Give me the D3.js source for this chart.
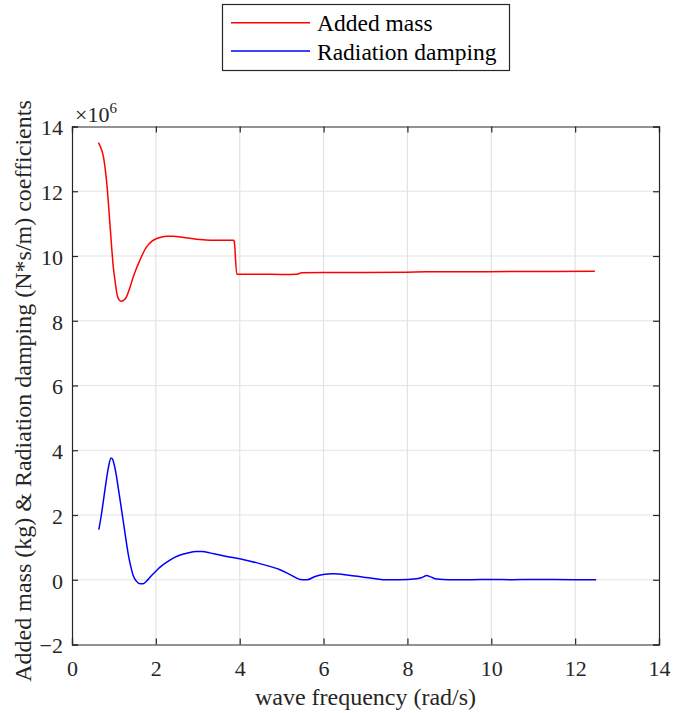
<!DOCTYPE html>
<html>
<head>
<meta charset="utf-8">
<script src="https://cdn.jsdelivr.net/npm/d3@7"></script>
<style>
  html, body { margin: 0; padding: 0; background: #fff; }
  svg { display: block; }
  svg text { font-family: "Liberation Serif", "Times New Roman", serif; fill: #262626; }
</style>
</head>
<body>
<script>
// ---- data (values in units of 1e6) ----
const addedMassX = [0.63,0.70,0.75,0.80,0.83,0.87,0.91,0.95,0.985,1.03,1.07,1.12,1.17,1.23,1.30,1.38,1.46,1.54,1.62,1.70,1.78,1.90,2.02,2.14,2.26,2.42,2.58,2.80,3.05,3.30,3.60,3.86,3.87,3.93,4.5,5.0,5.36,5.48,6.0,6.95,8.0,8.46,9.5,10.5,11.5,12.47];
const addedMassY = [13.5,13.3,13.06,12.6,12.24,11.6,10.9,10.2,9.66,9.2,8.84,8.65,8.6,8.63,8.74,9.02,9.35,9.63,9.87,10.1,10.28,10.45,10.54,10.59,10.61,10.61,10.59,10.55,10.51,10.49,10.49,10.49,10.45,9.44,9.44,9.43,9.44,9.48,9.49,9.49,9.50,9.51,9.51,9.52,9.52,9.53];
const dampingX = [0.64,0.70,0.75,0.81,0.87,0.93,0.97,1.00,1.05,1.10,1.16,1.22,1.28,1.34,1.40,1.46,1.54,1.62,1.70,1.78,1.86,1.98,2.10,2.28,2.46,2.60,2.74,2.97,3.10,3.29,3.50,3.69,4.0,4.5,4.96,5.2,5.44,5.6,5.8,5.99,6.23,6.6,6.95,7.2,7.43,7.8,8.22,8.35,8.46,8.55,8.7,9.0,9.5,10.0,10.5,11.0,12.0,12.5];
const dampingY = [1.55,2.0,2.45,3.0,3.48,3.76,3.72,3.59,3.28,2.86,2.35,1.83,1.3,0.80,0.42,0.13,-0.05,-0.12,-0.12,-0.04,0.08,0.24,0.39,0.56,0.70,0.77,0.82,0.875,0.87,0.83,0.77,0.72,0.65,0.49,0.31,0.16,0.01,0.0,0.1,0.16,0.185,0.14,0.08,0.04,0.0,0.0,0.03,0.07,0.13,0.09,0.02,0.0,0.0,0.01,0.0,0.01,0.0,0.0];
const seriesNames = ["Added mass", "Radiation damping"];
const seriesColors = ["#ff0000", "#0000ff"];
const xTicks = [0,2,4,6,8,10,12,14];
const yTicks = [-2,0,2,4,6,8,10,12,14];
const xLabel = "wave frequency (rad/s)";
const yLabel = "Added mass (kg) & Radiation damping (N*s/m) coefficients";

const FONT = '"Liberation Serif", "Times New Roman", serif';
const W = 673, H = 713;
const m = {left: 72, right: 673 - 659, top: 126.5, bottom: 713 - 644.5};
const svg = d3.select("body").append("svg").attr("width", W).attr("height", H)
  .attr("font-family", FONT);

const x = d3.scaleLinear().domain([0, 14]).range([m.left, W - m.right]);
const y = d3.scaleLinear().domain([-2, 14]).range([H - m.bottom, m.top]);
const axisColor = "#262626";

// grid
const grid = svg.append("g");
grid.selectAll("line.gx").data(xTicks.slice(1, -1)).join("line")
  .attr("x1", d => x(d)).attr("x2", d => x(d)).attr("y1", y(-2)).attr("y2", y(14))
  .attr("stroke", "#e3e3e3").attr("stroke-width", 1.2);
grid.selectAll("line.gy").data(yTicks.slice(1, -1)).join("line")
  .attr("y1", d => y(d)).attr("y2", d => y(d)).attr("x1", x(0)).attr("x2", x(14))
  .attr("stroke", "#e3e3e3").attr("stroke-width", 1.2);

// series
const line = d3.line().x(d => x(d[0])).y(d => y(d[1])).curve(d3.curveMonotoneX);
const series = [d3.zip(addedMassX, addedMassY), d3.zip(dampingX, dampingY)];
series.forEach((s, i) => {
  svg.append("path").datum(s).attr("d", line).attr("fill", "none")
    .attr("stroke", seriesColors[i]).attr("stroke-width", 1.5);
});

// axes (ticks inside, box)
const tl = 6;
const fmt = d3.format("d");
const xb = svg.append("g").attr("transform", `translate(0,${y(-2)})`)
  .call(d3.axisBottom(x).tickValues(xTicks).tickSize(-tl).tickPadding(16).tickFormat(fmt));
const xt = svg.append("g").attr("transform", `translate(0,${y(14)})`)
  .call(d3.axisTop(x).tickValues(xTicks).tickSize(-tl).tickFormat(""));
const yl = svg.append("g").attr("transform", `translate(${x(0)},0)`)
  .call(d3.axisLeft(y).tickValues(yTicks).tickSize(-tl).tickPadding(9).tickFormat(fmt));
const yr = svg.append("g").attr("transform", `translate(${x(14)},0)`)
  .call(d3.axisRight(y).tickValues(yTicks).tickSize(-tl).tickFormat(""));
[xb, xt, yl, yr].forEach(g => {
  g.attr("font-family", FONT).attr("font-size", 22);
  g.select(".domain").attr("stroke", axisColor).attr("stroke-width", 1.2);
  g.selectAll(".tick line").attr("stroke", axisColor).attr("stroke-width", 1.2);
  g.selectAll(".tick text").attr("fill", axisColor);
});
xb.selectAll(".tick text").attr("dy", "0.71em");
yl.selectAll(".tick text").attr("dy", "0.38em");

// exponent
const ex = svg.append("text").attr("x", 75).attr("y", 122).attr("font-size", 22);
ex.append("tspan").text("\u00d710");
ex.append("tspan").attr("dy", -9).attr("font-size", 15).text("6");

// axis labels
svg.append("text").attr("x", (x(0) + x(14)) / 2).attr("y", 705)
  .attr("text-anchor", "middle").attr("font-size", 24).text(xLabel);
svg.append("text").attr("transform", `translate(31,391) rotate(-90)`)
  .attr("text-anchor", "middle").attr("font-size", 24).text(yLabel);

// legend
const lg = svg.append("g");
lg.append("rect").attr("x", 222.5).attr("y", 4.5).attr("width", 287).attr("height", 66)
  .attr("fill", "#fff").attr("stroke", "#262626").attr("stroke-width", 1.2);
const rowsY = [22.7, 51];
seriesNames.forEach((n, i) => {
  lg.append("line").attr("x1", 231).attr("x2", 310).attr("y1", rowsY[i]).attr("y2", rowsY[i])
    .attr("stroke", seriesColors[i]).attr("stroke-width", 1.5);
  lg.append("text").attr("x", 317).attr("y", rowsY[i] + 8.5)
    .attr("font-size", 23.5).style("fill", "#000").text(n);
});
</script>
</body>
</html>
